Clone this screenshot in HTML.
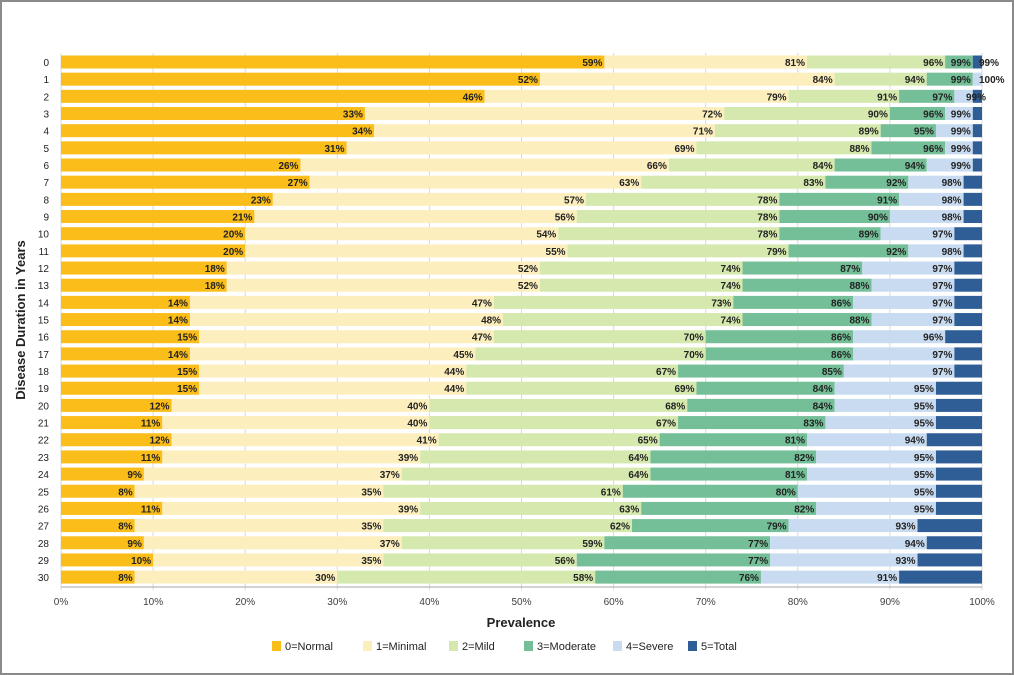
<!DOCTYPE html>
<html><head><meta charset="utf-8"><style>
body{margin:0;background:#fff;font-family:"Liberation Sans",sans-serif}
#frame{position:absolute;left:0;top:0;width:1010px;height:671px;border:2px solid #8a8a8a;background:#fff}
</style></head><body>
<div id="frame"></div>
<svg id="chart" width="1014" height="675" style="position:absolute;left:0;top:0"></svg>
<script>
const categories=[0,1,2,3,4,5,6,7,8,9,10,11,12,13,14,15,16,17,18,19,20,21,22,23,24,25,26,27,28,29,30];
const cumNormal=[59,52,46,33,34,31,26,27,23,21,20,20,18,18,14,14,15,14,15,15,12,11,12,11,9,8,11,8,9,10,8];
const cumMinimal=[81,84,79,72,71,69,66,63,57,56,54,55,52,52,47,48,47,45,44,44,40,40,41,39,37,35,39,35,37,35,30];
const cumMild=[96,94,91,90,89,88,84,83,78,78,78,79,74,74,73,74,70,70,67,69,68,67,65,64,64,61,63,62,59,56,58];
const cumModerate=[99,99,97,96,95,96,94,92,91,90,89,92,87,88,86,88,86,86,85,84,84,83,81,82,81,80,82,79,77,77,76];
const cumSevere=[99,100,99,99,99,99,99,98,98,98,97,98,97,97,97,97,96,97,97,95,95,95,94,95,95,95,95,93,94,93,91];
const xTicks=[0,10,20,30,40,50,60,70,80,90,100];
const seriesNames=["0=Normal","1=Minimal","2=Mild","3=Moderate","4=Severe","5=Total"];
const colors=["#fbbd19","#fdefbd","#d5e8ad","#74bf98","#c8dbf1","#2f5e96"];
const NS="http://www.w3.org/2000/svg";
const svg=document.getElementById('chart');
const X0=61,X1=982,Y0=62,DY=17.17,BH=13;
const xs=v=>X0+(X1-X0)*v/100;
const ys=i=>Y0+i*DY;
function mk(t,a,txt){const e=document.createElementNS(NS,t);for(const k in a)e.setAttribute(k,a[k]);if(txt!==undefined)e.textContent=txt;svg.appendChild(e);return e;}
xTicks.forEach(t=>{
 const g=mk('line',{x1:xs(t),x2:xs(t),y1:53,y2:590,stroke:'#d9d9d9','stroke-width':1});
 
 
 const l=mk('text',{x:xs(t),y:605,'text-anchor':'middle','font-size':10,fill:'#404040'},t+'%');
 
 
});
const ax=mk('line',{x1:X0,x2:X1,y1:587,y2:587,stroke:'#a6a6a6'});


categories.forEach((c,i)=>{
 const cum=[0,cumNormal[i],cumMinimal[i],cumMild[i],cumModerate[i],cumSevere[i],100];
 const y=ys(i);
 for(let s=0;s<6;s++){
  const a=cum[s],b=cum[s+1];
  if(b<=a)continue;
  const r=mk('rect',{x:xs(a),y:y-BH/2,width:xs(b)-xs(a),height:BH,fill:colors[s]});
  
  
 }
 for(let s=1;s<=5;s++){
  const t=mk('text',{x:xs(cum[s])-2,y:y+4,'text-anchor':'end','font-size':10,'font-weight':'bold',fill:'#222'},cum[s]+'%');
  if(s===5&&i<2){t.setAttribute('x',xs(100)-3);t.setAttribute('text-anchor','start');}
  if(s===5&&i===2){t.setAttribute('x',xs(100)+4);}
  
  
 }
 const yl=mk('text',{x:49,y:y+4,'text-anchor':'end','font-size':10,fill:'#222'},c);
 
 
});
const yt=mk('text',{x:0,y:0,'text-anchor':'middle','font-size':13,'font-weight':'bold',fill:'#222',transform:'translate(25,320) rotate(-90)'},'Disease Duration in Years');


const xt=mk('text',{x:521,y:627,'text-anchor':'middle','font-size':13,'font-weight':'bold',fill:'#222'},'Prevalence');


const lx=[272,363,449,524,613,688];
seriesNames.forEach((n,s)=>{
 const r=mk('rect',{x:lx[s],y:641,width:9,height:10,fill:colors[s]});
 
 
 const t=mk('text',{x:lx[s]+13,y:650,'font-size':11,fill:'#222'},n);
 
 
});
</script>
</body></html>
